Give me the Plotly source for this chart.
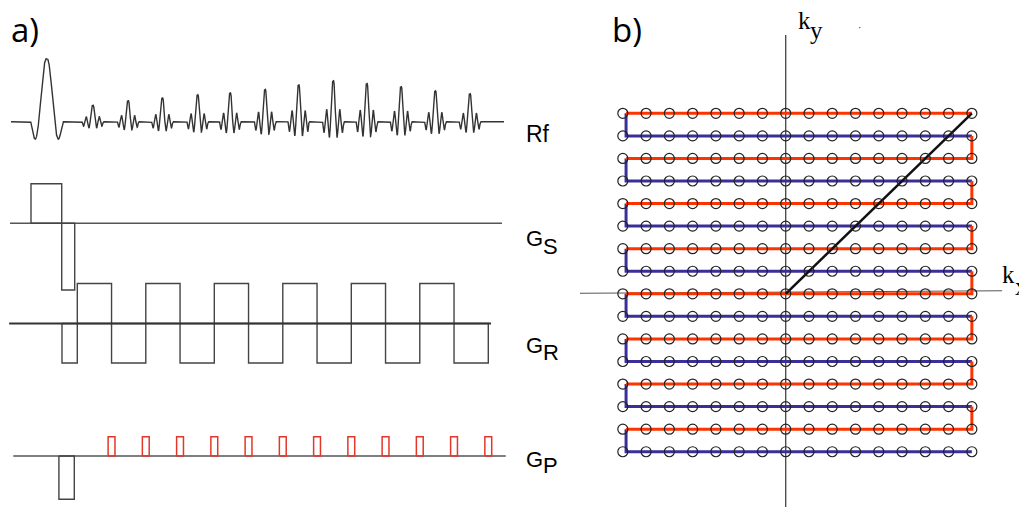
import numpy as np
import plotly.graph_objects as go

# ---------------- data: pulse sequence (time in echo-spacing units) ----------------
rf_excite_center = -0.893
rf_excite_halfwidth = 0.467
rf_excite_amp = 62.7
echo_centers = [0.45, 1.48, 2.48, 3.51, 4.46, 5.48, 6.46, 7.47, 8.45, 9.45, 10.45, 11.46]
echo_amps = [15.7, 20.0, 22.7, 25.7, 27.4, 30.7, 35.0, 39.0, 36.4, 33.4, 29.4, 26.7]
echo_halfwidth = 0.307

gs_lobe_edges = [-1.352, -0.455, -0.076]
gs_lobe_amps = [39.6, -66.7]

gr_lobe_edges = [-0.447, 0, 1, 2, 3, 4, 5, 6, 7, 8, 9, 10, 11, 12]
gr_lobe_amps = [-39.5, 40, -39.5, 40, -39.5, 40, -39.5, 40, -39.5, 40, -39.5, 40, -39.5]

gp_prephaser_edges = [-0.537, -0.088]
gp_prephaser_amp = -43.3
gp_blip_centers = [1, 2, 3, 4, 5, 6, 7, 8, 9, 10, 11, 12]
gp_blip_width = 0.2
gp_blip_amp = 19.2

rf_span = [-1.936, 12.46]
gs_span = [-1.965, 12.40]
gr_span = [-1.99, 12.08]
gp_span = [-1.87, 12.51]

# ---------------- data: k-space ----------------
kx_vals = list(range(-7, 9))
ky_vals = list(range(-7, 9))
traj_left = -6.86
traj_right = 8.0
diag_kx = [0, 8]
diag_ky = [0, 8]

# ---------------- layout constants ----------------
W, H = 1019, 507
chan_offset = {"rf": -121.7, "gs": -223.3, "gr": -323.5, "gp": -456.0}
RED = "#FF3300"
BLUE = "#3A2E9A"

fig = go.Figure()

# ---- RF waveform ----
t = np.arange(rf_span[0], rf_span[1], 0.0015)
rf = np.zeros_like(t)
u = (t - rf_excite_center) / rf_excite_halfwidth * 2.0
m = np.abs(u) <= 2.0
rf[m] += rf_excite_amp * np.sinc(u[m]) * (1 + 0.2 * np.abs(u[m]))
for c, a in zip(echo_centers, echo_amps):
    u = (t - c) / echo_halfwidth * 4.0
    m = np.abs(u) <= 4.0
    rf[m] += a * np.sinc(u[m]) * (1 + 0.6 * np.abs(u[m]))
fig.add_trace(go.Scatter(x=t, y=rf + chan_offset["rf"], mode="lines",
                         line=dict(color="#333333", width=1.4), xaxis="x", yaxis="y",
                         hoverinfo="skip"))


def rects(edges, amps, off):
    xs, ys = [], []
    for i, a in enumerate(amps):
        t0, t1 = edges[i], edges[i + 1]
        xs += [t0, t0, t1, t1, t0, None]
        ys += [off, off + a, off + a, off, off, None]
    return xs, ys


def baseline(span, off, color, width):
    fig.add_trace(go.Scatter(x=span, y=[off, off], mode="lines",
                             line=dict(color=color, width=width), xaxis="x", yaxis="y",
                             hoverinfo="skip"))


# ---- Gs ----
baseline(gs_span, chan_offset["gs"], "#555555", 1.5)
xs, ys = rects(gs_lobe_edges, gs_lobe_amps, chan_offset["gs"])
fig.add_trace(go.Scatter(x=xs, y=ys, mode="lines", line=dict(color="#444444", width=1.4),
                         xaxis="x", yaxis="y", hoverinfo="skip"))

# ---- GR ----
xs, ys = rects(gr_lobe_edges, gr_lobe_amps, chan_offset["gr"])
fig.add_trace(go.Scatter(x=xs, y=ys, mode="lines", line=dict(color="#444444", width=1.4),
                         xaxis="x", yaxis="y", hoverinfo="skip"))
baseline(gr_span, chan_offset["gr"], "#333333", 2.0)

# ---- Gp ----
baseline(gp_span, chan_offset["gp"], "#555555", 1.5)
xs, ys = rects(gp_prephaser_edges, [gp_prephaser_amp], chan_offset["gp"])
fig.add_trace(go.Scatter(x=xs, y=ys, mode="lines", line=dict(color="#444444", width=1.4),
                         xaxis="x", yaxis="y", hoverinfo="skip"))
bx, by = [], []
for c in gp_blip_centers:
    e = [c - gp_blip_width / 2, c + gp_blip_width / 2]
    x_, y_ = rects(e, [gp_blip_amp], chan_offset["gp"])
    bx += x_
    by += y_
fig.add_trace(go.Scatter(x=bx, y=by, mode="lines", line=dict(color="#E3372B", width=1.5),
                         xaxis="x", yaxis="y", hoverinfo="skip"))

# ---------------- k-space panel ----------------
fig.add_trace(go.Scatter(x=[0, 0], y=[-9.45, 11.47], mode="lines",
                         line=dict(color="#444444", width=1.3), xaxis="x2", yaxis="y2",
                         hoverinfo="skip"))
fig.add_trace(go.Scatter(x=[-8.84, 9.3], y=[0.022, 0.137], mode="lines",
                         line=dict(color="#555555", width=1.1), xaxis="x2", yaxis="y2",
                         hoverinfo="skip"))

rows = sorted(ky_vals, reverse=True)
rx, ry, bxs, bys = [], [], [], []
for i, ky in enumerate(rows):
    if i % 2 == 0:
        if i > 0:
            rx += [traj_right, traj_right, traj_left, None]
            ry += [ky + 1, ky, ky, None]
        else:
            rx += [traj_right, traj_left, None]
            ry += [ky, ky, None]
    else:
        bxs += [traj_left, traj_left, traj_right, None]
        bys += [ky + 1, ky, ky, None]
fig.add_trace(go.Scatter(x=bxs, y=bys, mode="lines", line=dict(color=BLUE, width=3),
                         xaxis="x2", yaxis="y2", hoverinfo="skip"))
fig.add_trace(go.Scatter(x=rx, y=ry, mode="lines", line=dict(color=RED, width=3),
                         xaxis="x2", yaxis="y2", hoverinfo="skip"))
fig.add_trace(go.Scatter(x=diag_kx, y=diag_ky, mode="lines", line=dict(color="#111111", width=2.5),
                         xaxis="x2", yaxis="y2", hoverinfo="skip"))

gx, gy = np.meshgrid(kx_vals, ky_vals)
fig.add_trace(go.Scatter(x=gx.ravel(), y=gy.ravel(), mode="markers",
                         marker=dict(symbol="circle-open", size=10, color="#222222",
                                     line=dict(width=1.2, color="#222222")),
                         xaxis="x2", yaxis="y2", hoverinfo="skip"))

# ---------------- text ----------------
def px(x, y):
    return x / W, 1 - y / H


ann = []


def text(s, x, y, size, family, xanchor="left", color="#000000"):
    xp, yp = px(x, y)
    ann.append(dict(text=s, x=xp, y=yp, xref="paper", yref="paper", showarrow=False,
                    xanchor=xanchor, yanchor="middle",
                    font=dict(size=size, family=family, color=color)))


sans = "Liberation Sans, Arial, sans-serif"
serif = "Liberation Serif, Times New Roman, serif"
text("a)", 9, 30, 33, "Open Sans, sans-serif")
text("b)", 610, 30, 33, "Open Sans, sans-serif")
text("Rf", 524, 134, 23, sans)
text("G", 524, 239, 22, sans)
text("S", 541, 246, 22, sans)
text("G", 524, 345, 22, sans)
text("R", 541, 352, 22, sans)
text("G", 524, 459, 22, sans)
text("P", 541, 465, 22, sans)
text("k", 796, 21, 25, serif)
text("y", 808, 31, 25, serif)
text("k", 1000, 274, 25, serif)
text("x", 1013, 286, 25, serif)
text("·", 856, 27, 10, serif)

fig.update_layout(
    width=W, height=H,
    margin=dict(l=0, r=0, t=0, b=0),
    paper_bgcolor="white", plot_bgcolor="white",
    showlegend=False,
    annotations=ann,
    xaxis=dict(domain=[0, 0.55], range=[-2.257, 14.107], visible=False, fixedrange=True),
    yaxis=dict(domain=[0, 1], range=[-507, 0], visible=False, fixedrange=True),
    xaxis2=dict(domain=[0.55, 1], range=[-9.680, 10.026], visible=False, fixedrange=True),
    yaxis2=dict(domain=[0, 1], range=[-9.450, 13.023], visible=False, fixedrange=True,
                anchor="x2"),
)

fig.write_html("out.html",
               config={"displayModeBar": False, "staticPlot": True},
               post_script="document.body.style.margin='0';document.body.style.overflow='hidden';")
